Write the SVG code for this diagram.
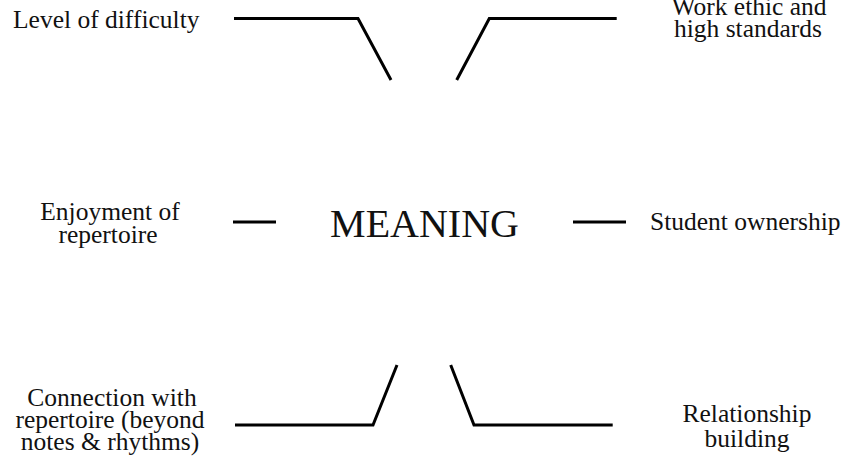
<svg xmlns="http://www.w3.org/2000/svg" width="849" height="467" viewBox="0 0 849 467">
<style>
text{font-family:"Liberation Serif","Times New Roman",serif;font-size:25.5px;fill:#111}
.c{text-anchor:middle}
.big{font-size:40px}
.ln{fill:none;stroke:#000;stroke-width:3;stroke-linejoin:miter}
</style>
<rect width="849" height="467" fill="#fff"/>
<g id="connectors">
<polyline class="ln" points="234,18.5 358,18.5 391,80"/>
<polyline class="ln" points="456.7,80 489.3,18.5 616.7,18.5"/>
<line class="ln" x1="233" y1="222" x2="276" y2="222"/>
<line class="ln" x1="573" y1="222" x2="626" y2="222"/>
<polyline class="ln" points="235,425 373,425 397,365"/>
<polyline class="ln" points="450.7,365 474,425 612.7,425"/>
</g>
<g id="meaning"><text class="c big" x="424.5" y="237">MEANING</text></g>
<g id="difficulty"><text x="13" y="28">Level of difficulty</text></g>
<g id="work-ethic"><text class="c" x="749" y="15">Work ethic and</text><text class="c" x="748" y="37">high standards</text></g>
<g id="enjoyment"><text class="c" x="110" y="220">Enjoyment of</text><text class="c" x="108" y="243">repertoire</text></g>
<g id="ownership"><text x="650" y="230">Student ownership</text></g>
<g id="connection"><text class="c" x="112" y="406">Connection with</text><text class="c" x="110" y="428">repertoire (beyond</text><text class="c" x="110" y="450">notes &amp; rhythms)</text></g>
<g id="relationship"><text class="c" x="747" y="422">Relationship</text><text class="c" x="747" y="447">building</text></g>
</svg>
